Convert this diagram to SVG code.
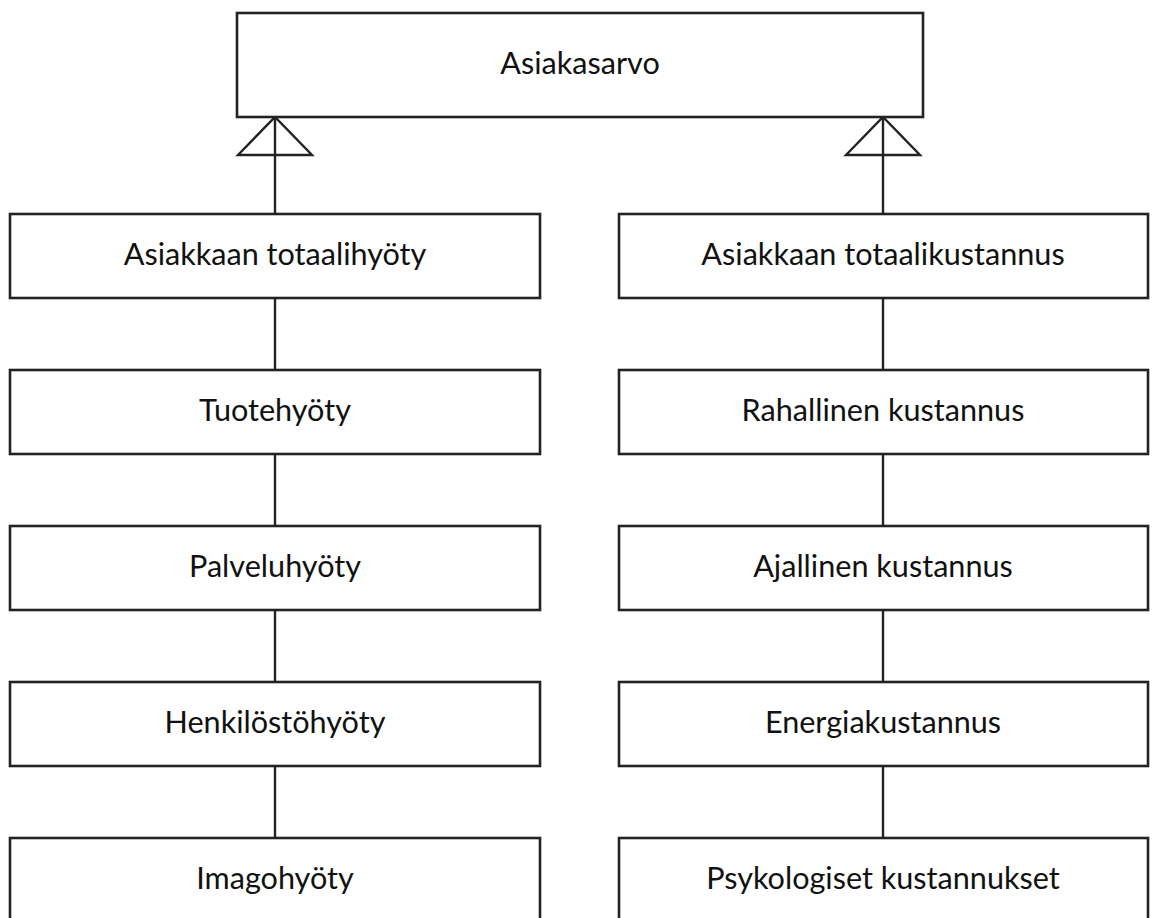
<svg xmlns="http://www.w3.org/2000/svg" width="1152" height="918" viewBox="0 0 1152 918">
  <style>
    .box { fill: #ffffff; stroke: #222222; stroke-width: 2.6; }
    .lbl { font-family: "Lato", "Open Sans", "Liberation Sans", sans-serif; font-size: 30.6px; fill: #111111; text-anchor: middle; }
    .edge { fill: none; stroke: #222222; stroke-width: 2.4; }
  </style>
  <defs>
    <!-- hollow generalisation triangle, tip at the parent box -->
    <marker id="hollow" markerUnits="userSpaceOnUse" viewBox="-2 -40 44 80" refX="38" refY="0" markerWidth="44" markerHeight="80" orient="auto" overflow="visible">
      <path d="M0,-37 L38,0 L0,37 Z" fill="none" stroke="#222222" stroke-width="2.4" stroke-linejoin="miter"/>
    </marker>
  </defs>

  <rect width="1152" height="918" fill="#ffffff"/>

  <!-- connectors -->
  <g id="connectors">
    <path class="edge" d="M275,214 V117" marker-end="url(#hollow)"/>
    <path class="edge" d="M883,214 V117" marker-end="url(#hollow)"/>
    <path class="edge" d="M275,298 V370 M275,454 V526 M275,610 V682 M275,766 V838"/>
    <path class="edge" d="M883,298 V370 M883,454 V526 M883,610 V682 M883,766 V838"/>
  </g>

  <!-- root -->
  <g id="asiakasarvo">
    <rect class="box" x="237" y="13" width="686" height="104"/>
    <text class="lbl" x="580" y="74">Asiakasarvo</text>
  </g>

  <!-- benefit column -->
  <g id="totaalihyoty">
    <rect class="box" x="10" y="214" width="530" height="84"/>
    <text class="lbl" x="275" y="265">Asiakkaan totaalihyöty</text>
  </g>
  <g id="tuotehyoty">
    <rect class="box" x="10" y="370" width="530" height="84"/>
    <text class="lbl" x="275" y="421">Tuotehyöty</text>
  </g>
  <g id="palveluhyoty">
    <rect class="box" x="10" y="526" width="530" height="84"/>
    <text class="lbl" x="275" y="577">Palveluhyöty</text>
  </g>
  <g id="henkilostohyoty">
    <rect class="box" x="10" y="682" width="530" height="84"/>
    <text class="lbl" x="275" y="733">Henkilöstöhyöty</text>
  </g>
  <g id="imagohyoty">
    <rect class="box" x="10" y="838" width="530" height="84"/>
    <text class="lbl" x="275" y="889">Imagohyöty</text>
  </g>

  <!-- cost column -->
  <g id="totaalikustannus">
    <rect class="box" x="619" y="214" width="529" height="84"/>
    <text class="lbl" x="883" y="265">Asiakkaan totaalikustannus</text>
  </g>
  <g id="rahallinen">
    <rect class="box" x="619" y="370" width="529" height="84"/>
    <text class="lbl" x="883" y="421">Rahallinen kustannus</text>
  </g>
  <g id="ajallinen">
    <rect class="box" x="619" y="526" width="529" height="84"/>
    <text class="lbl" x="883" y="577">Ajallinen kustannus</text>
  </g>
  <g id="energia">
    <rect class="box" x="619" y="682" width="529" height="84"/>
    <text class="lbl" x="883" y="733">Energiakustannus</text>
  </g>
  <g id="psykologiset">
    <rect class="box" x="619" y="838" width="529" height="84"/>
    <text class="lbl" x="883" y="889">Psykologiset kustannukset</text>
  </g>
</svg>
